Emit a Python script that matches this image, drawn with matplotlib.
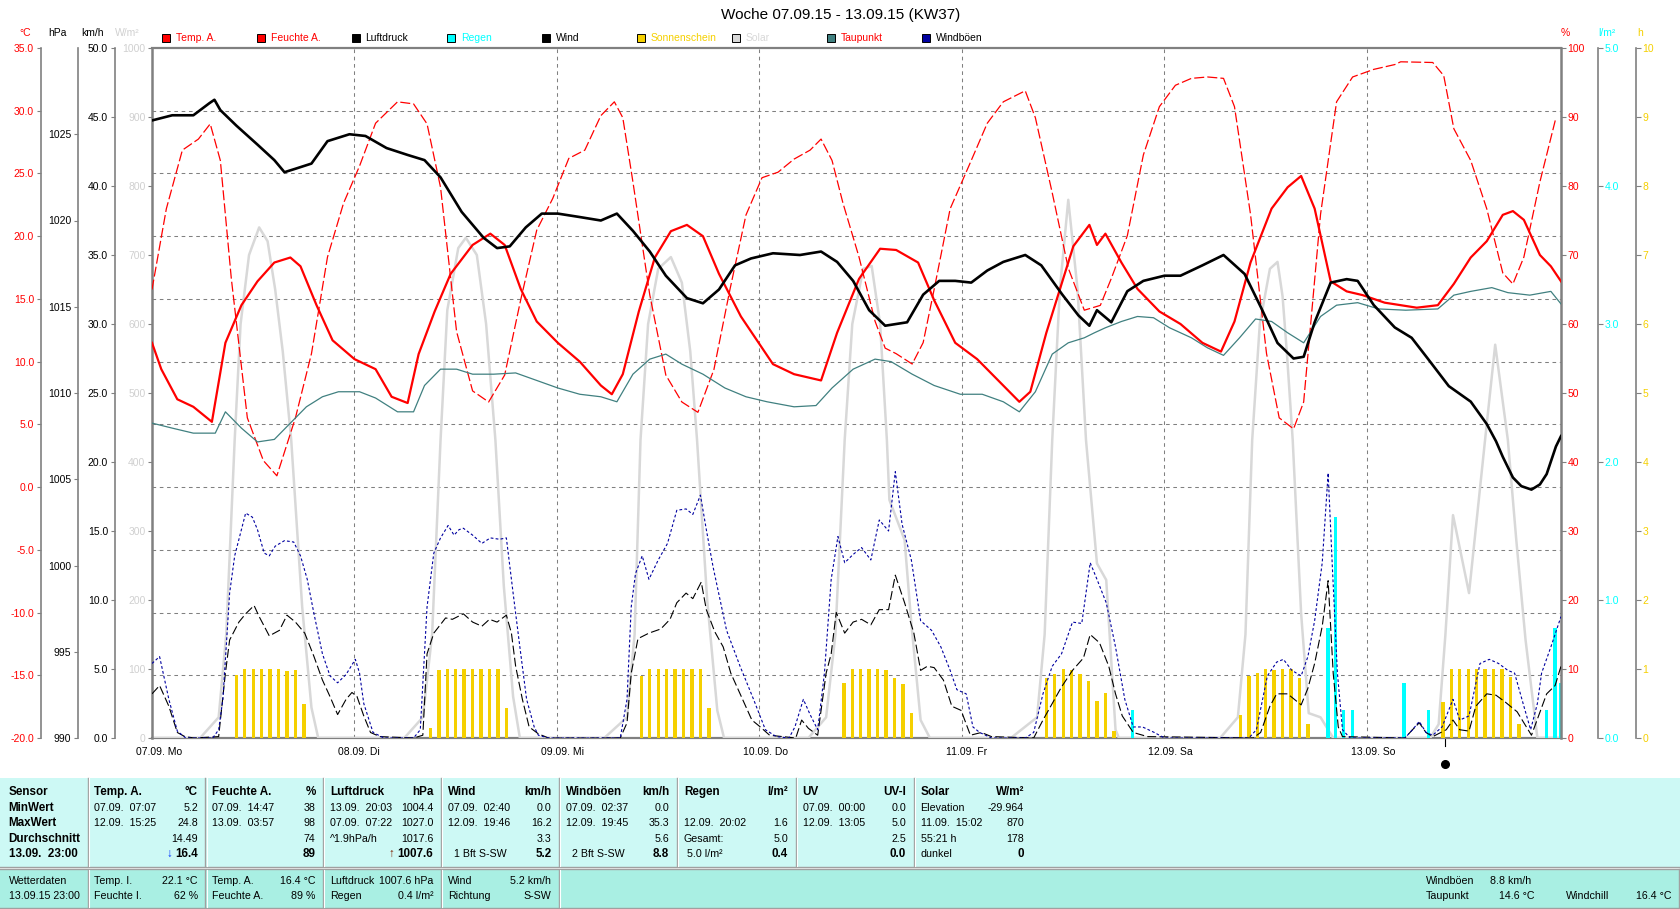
import matplotlib
matplotlib.use("Agg")
import matplotlib.pyplot as plt
import matplotlib.transforms as mtransforms
from matplotlib.patches import Rectangle

plt.rcParams['font.family'] = ['Liberation Sans', 'DejaVu Sans']

# ---------------- data (time in hours since 07.09.15 00:00) ----------------
title = "Woche 07.09.15 - 13.09.15 (KW37)"
day_labels = ["07.09. Mo", "08.09. Di", "09.09. Mi", "10.09. Do", "11.09. Fr", "12.09. Sa", "13.09. So"]
hours_end = 167.0
mark_t = 153.3

temp = [(0, 11.5), (1.1, 9.4), (3.0, 7.0), (4.9, 6.4), (7.1, 5.2), (8.7, 11.5), (10.6, 14.5), (12.5, 16.4),
        (14.5, 17.9), (16.4, 18.3), (17.6, 17.6), (19.5, 14.5), (21.4, 11.7), (24.0, 10.2), (26.5, 9.4),
        (28.4, 7.2), (30.3, 6.7), (31.6, 10.6), (33.5, 14.0), (35.4, 17.0), (38.0, 19.3), (40.1, 20.2),
        (41.8, 19.3), (43.7, 15.8), (45.6, 13.2), (48.1, 11.5), (50.7, 10.0), (53.2, 8.1), (54.5, 7.4),
        (55.8, 9.0), (57.7, 14.0), (59.6, 18.3), (61.5, 20.4), (63.4, 20.9), (65.3, 20.0), (67.2, 17.0),
        (69.8, 13.6), (71.7, 11.7), (73.6, 9.8), (76.1, 9.0), (79.3, 8.5), (81.2, 12.3), (83.8, 16.6),
        (86.3, 19.0), (88.2, 18.9), (90.8, 17.9), (92.7, 14.9), (95.2, 11.5), (97.8, 10.2), (100.3, 8.5),
        (102.8, 6.8), (104.1, 7.6), (106.0, 12.3), (109.2, 19.2), (111.1, 20.9), (112.0, 19.3), (113.0, 20.2),
        (114.9, 17.9), (116.8, 15.8), (119.4, 14.0), (121.9, 13.0), (124.5, 11.5), (126.7, 10.8), (128.3, 13.2),
        (130.2, 17.9), (132.7, 22.2), (134.6, 23.9), (136.2, 24.8), (137.8, 22.2), (139.7, 16.4), (141.6, 15.6),
        (143.5, 15.3), (146.1, 14.7), (149.9, 14.3), (152.4, 14.5), (154.3, 16.2), (156.3, 18.3), (158.2, 19.6),
        (160.1, 21.7), (161.3, 22.0), (162.6, 21.3), (164.5, 18.5), (165.8, 17.6), (167.0, 16.4)]

humidity = [(0, 65), (1.7, 76.7), (3.6, 85.2), (5.5, 86.8), (6.9, 89), (8.1, 83.7), (9.4, 66.6), (11.3, 46.4),
            (13.2, 40.2), (14.8, 38), (17.0, 46.4), (18.9, 55.7), (20.8, 69.7), (22.7, 77.5), (24.6, 82.9),
            (26.5, 89.1), (29.1, 92.2), (31.0, 91.9), (32.6, 89), (34.2, 79.8), (36.1, 58.9), (38.0, 50.3),
            (39.9, 48.7), (41.8, 52.6), (43.7, 63.5), (45.6, 73.6), (47.5, 78.2), (49.4, 84), (51.3, 85.2),
            (53.2, 90.2), (54.8, 92.2), (55.8, 89.9), (57.0, 80.6), (59.0, 64.2), (60.9, 52.6), (62.8, 48.7),
            (64.7, 47.2), (66.6, 53.4), (68.5, 65), (70.4, 75.8), (72.3, 81.2), (74.2, 82), (76.1, 83.9),
            (78.0, 85.2), (79.3, 86.8), (80.6, 83.7), (81.9, 77.5), (83.8, 69.7), (85.7, 60.4), (86.9, 56.5),
            (88.2, 55.7), (90.1, 54.2), (91.4, 57.3), (92.7, 65), (94.6, 76.7), (97.1, 83.7), (99.0, 89.1),
            (100.9, 92.2), (103.5, 93.8), (104.7, 89.9), (106.7, 79), (108.6, 68.1), (110.5, 62), (112.4, 62.7),
            (113.7, 66.6), (115.6, 72.8), (117.5, 84.5), (119.4, 91.5), (121.3, 94.6), (123.2, 95.6),
            (125.1, 95.8), (127.0, 95.6), (128.3, 91.5), (130.2, 75.9), (132.1, 55.7), (133.6, 46.4),
            (135.3, 44.8), (136.5, 48.7), (138.5, 75.9), (140.4, 92.2), (142.3, 95.8), (144.8, 96.9),
            (147.3, 97.6), (148.0, 98.0), (151.8, 97.9), (153.1, 96), (154.3, 88.3), (156.3, 83.7), (158.2, 76.7),
            (160.1, 67.4), (161.3, 65.8), (162.6, 69.7), (164.5, 80.6), (166.4, 89.9)]

pressure = [(0, 1025.8), (2.4, 1026.1), (4.9, 1026.1), (6.8, 1026.8), (7.4, 1027.0), (8.1, 1026.4), (10.0, 1025.5),
            (12.5, 1024.4), (14.5, 1023.5), (15.7, 1022.8), (17.0, 1023.0), (18.9, 1023.3), (20.8, 1024.6),
            (23.4, 1025.0), (25.3, 1024.9), (27.8, 1024.2), (30.3, 1023.8), (32.3, 1023.5), (34.2, 1022.5),
            (36.7, 1020.5), (39.3, 1019.0), (40.9, 1018.4), (42.4, 1018.5), (44.3, 1019.6), (46.2, 1020.4),
            (48.1, 1020.4), (50.7, 1020.2), (53.2, 1020.0), (55.1, 1020.4), (57.0, 1019.4), (59.0, 1018.2),
            (60.9, 1016.8), (63.4, 1015.5), (65.3, 1015.2), (67.2, 1016.0), (69.1, 1017.4), (71.0, 1017.8),
            (73.6, 1018.1), (76.8, 1018.0), (79.3, 1018.2), (81.2, 1017.6), (83.1, 1016.5), (85.0, 1014.8),
            (86.9, 1013.9), (89.5, 1014.1), (91.4, 1015.7), (93.3, 1016.5), (95.2, 1016.5), (97.1, 1016.4),
            (99.0, 1017.1), (100.9, 1017.6), (103.5, 1018.0), (105.4, 1017.4), (107.9, 1015.7), (109.8, 1014.5),
            (111.1, 1013.9), (112.0, 1014.8), (113.7, 1014.1), (115.6, 1015.9), (117.5, 1016.5), (120.0, 1016.8),
            (121.9, 1016.8), (124.5, 1017.4), (127.0, 1018.0), (129.5, 1016.9), (131.5, 1014.9), (133.4, 1012.9),
            (135.3, 1012.0), (136.5, 1012.1), (137.8, 1014.1), (139.7, 1016.4), (141.6, 1016.6), (142.9, 1016.5),
            (144.8, 1015.1), (147.3, 1013.8), (149.3, 1013.2), (151.2, 1012.0), (153.7, 1010.4), (156.3, 1009.5),
            (158.2, 1008.2), (159.3, 1007.2), (160.1, 1006.3), (161.3, 1005.1), (162.3, 1004.6), (163.5, 1004.4),
            (164.5, 1004.7), (165.3, 1005.3), (166.4, 1006.9), (167.0, 1007.5)]

dewpoint = [(0, 5.1), (2.4, 4.7), (4.9, 4.3), (7.5, 4.3), (8.7, 6.0), (10.6, 4.7), (12.5, 3.6), (14.5, 3.8),
            (16.4, 5.1), (18.3, 6.4), (20.2, 7.2), (22.1, 7.6), (24.6, 7.6), (26.5, 7.1), (29.1, 6.0), (31.0, 6.0),
            (32.3, 8.1), (34.2, 9.4), (36.1, 9.4), (38.0, 9.0), (40.5, 9.0), (43.1, 9.1), (45.6, 8.5), (48.1, 7.9),
            (50.7, 7.4), (53.2, 7.2), (55.1, 6.8), (57.0, 9.0), (59.0, 10.2), (60.9, 10.6), (62.8, 9.8),
            (65.3, 9.0), (67.9, 7.9), (70.4, 7.2), (72.9, 6.8), (76.1, 6.4), (78.7, 6.5), (80.6, 7.9), (83.1, 9.4),
            (85.7, 10.2), (87.6, 10.0), (90.1, 9.0), (92.7, 8.1), (95.8, 7.4), (98.4, 7.4), (100.9, 6.8),
            (102.8, 6.0), (104.7, 7.6), (106.7, 10.6), (108.6, 11.5), (110.5, 11.9), (111.7, 12.3), (113.0, 12.7),
            (114.9, 13.2), (116.8, 13.6), (118.7, 13.5), (120.6, 12.7), (123.2, 11.9), (125.1, 11.1),
            (127.0, 10.5), (128.9, 11.9), (130.8, 13.4), (132.7, 13.2), (134.6, 12.3), (136.5, 11.5),
            (138.5, 13.6), (140.4, 14.5), (142.9, 14.7), (145.4, 14.2), (148.6, 14.1), (152.4, 14.2),
            (154.3, 15.3), (156.3, 15.6), (158.8, 15.9), (160.7, 15.5), (163.3, 15.3), (165.8, 15.6), (167.0, 14.6)]

solar = [(0, 0), (5.7, 0), (7.9, 30), (8.8, 150), (9.8, 432), (10.5, 600), (11.5, 700), (12.7, 740), (13.7, 720),
         (14.6, 650), (15.5, 560), (16.5, 432), (17.8, 190), (18.9, 44), (19.7, 0),
         (29.9, 0), (32.1, 30), (33.2, 150), (34.2, 432), (35.0, 620), (36.3, 710), (37.2, 725), (38.5, 700),
         (39.6, 600), (40.7, 432), (41.7, 220), (42.8, 60), (43.6, 0),
         (53.6, 0), (56.3, 30), (57.2, 150), (57.9, 432), (58.8, 600), (60.0, 680), (61.5, 697), (62.8, 660),
         (63.8, 560), (64.6, 432), (65.8, 200), (67.0, 40), (67.8, 0),
         (77.8, 0), (79.9, 30), (81.0, 150), (82.1, 432), (83.0, 600), (84.3, 680), (85.3, 684), (86.3, 600),
         (87.1, 432), (87.4, 345), (89.2, 287), (90.0, 166), (91.1, 26), (92.2, 0),
         (101.8, 0), (104.9, 30), (105.8, 150), (106.7, 432), (107.6, 650), (108.6, 780), (109.7, 650),
         (110.7, 432), (112.0, 253), (113.1, 229), (114.2, 12), (114.6, 0),
         (126.6, 0), (128.7, 30), (129.6, 150), (130.4, 432), (131.3, 600), (132.5, 680), (133.4, 690),
         (134.0, 640), (134.5, 560), (135.2, 432), (136.2, 180), (137.1, 36), (138.5, 30), (140.0, 0),
         (151.5, 0), (152.5, 20), (153.3, 150), (154.2, 323), (156.1, 210), (158.0, 432), (159.2, 570),
         (160.7, 432), (161.7, 287), (162.8, 142), (164.2, 0), (167.0, 0)]

wind = [(0, 3.2), (0.9, 3.8), (2.0, 2.3), (3.0, 0.4), (3.9, 0.1), (5, 0), (7.9, 0.1), (8.7, 4.7), (9.2, 7.1),
        (10.3, 8.4), (11.1, 9.0), (12.1, 9.6), (12.7, 8.8), (13.9, 7.4), (15.1, 7.8), (16.0, 8.9), (17.0, 8.4),
        (18.1, 7.6), (19.2, 5.9), (20.2, 4.2), (21.1, 3.0), (22.0, 1.7), (23.0, 2.8), (23.7, 3.3), (24.3, 3.0),
        (25.1, 1.6), (25.9, 0.4), (27, 0.1), (31, 0), (32.1, 0.2), (32.6, 6.1), (33.4, 7.6), (34.8, 8.7),
        (35.6, 8.6), (36.9, 9.0), (38.0, 8.4), (39.1, 8.1), (40.0, 8.6), (40.9, 8.4), (42.0, 8.9), (42.6, 7.6),
        (43.1, 5.2), (43.9, 2.8), (44.7, 0.8), (45.8, 0.3), (47, 0), (55.5, 0), (56.3, 1.1), (56.8, 4.7),
        (57.6, 7.2), (58.9, 7.6), (60.3, 7.9), (61.4, 8.6), (62.2, 9.8), (63.3, 10.5), (64.1, 10.1),
        (65.1, 11.3), (65.7, 9.3), (66.7, 7.7), (67.7, 6.6), (68.6, 4.7), (69.7, 3.2), (71.1, 1.3), (72.1, 0.8),
        (73.2, 0.2), (76.3, 0), (77.0, 1.3), (77.8, 0.7), (78.9, 0.2), (79.9, 4.7), (80.5, 6.1), (81.1, 9.1),
        (82.1, 7.6), (83.1, 8.4), (84.1, 8.6), (85.2, 8.2), (86.2, 9.3), (87.3, 9.3), (88.1, 11.8), (89.2, 9.8),
        (90.3, 7.6), (91.1, 4.9), (91.9, 5.2), (92.7, 5.1), (93.8, 4.2), (94.8, 2.3), (95.9, 2.0), (97.0, 0.2),
        (98.3, 0.4), (99.5, 0.1), (104.5, 0), (105.6, 1.3), (106.7, 2.5), (107.8, 3.7), (109.1, 4.9),
        (110.4, 5.8), (111.2, 7.5), (112.3, 6.9), (113.4, 5.2), (114.2, 3.2), (115.0, 1.6), (116.3, 0.4),
        (118.0, 0.1), (130.5, 0), (131.4, 0.4), (132.5, 2.3), (133.3, 3.2), (134.6, 3.2), (136.2, 2.4),
        (137.0, 3.6), (137.8, 5.4), (138.7, 8.1), (139.4, 11.4), (140.0, 4.7), (140.6, 0.8), (141.1, 0.1),
        (148.5, 0), (149.4, 0.6), (150.2, 1.1), (151.0, 0.4), (151.8, 0.1), (153.4, 0.6), (154.2, 1.3),
        (155.0, 0.6), (156.1, 0.5), (156.9, 2.3), (158.2, 3.2), (159.3, 3.1), (160.4, 2.6), (161.8, 1.9),
        (162.8, 0.9), (163.5, 0.2), (164.4, 1.7), (165.3, 3.2), (166.3, 3.8), (167.0, 5.2)]

gusts = [(0, 5.4), (0.9, 5.9), (2.0, 2.8), (3.0, 0.5), (4, 0), (7.2, 0), (7.9, 0.6), (8.4, 2.8), (9.2, 10.5),
         (9.8, 13.2), (10.3, 14.4), (11.1, 16.3), (11.9, 16.0), (12.5, 15.1), (13.3, 13.4), (13.9, 13.2),
         (14.6, 13.9), (15.7, 14.3), (16.8, 14.2), (17.6, 13.2), (18.4, 11.5), (19.2, 9.0), (20.2, 6.1),
         (21.1, 4.5), (22.0, 4.0), (23.0, 4.6), (24.1, 5.7), (24.6, 4.7), (25.1, 2.5), (26.2, 0.4), (27.5, 0),
         (31, 0), (31.8, 0.6), (32.6, 9.5), (33.4, 13.4), (34.2, 14.5), (35.1, 15.4), (35.8, 14.7), (36.4, 15.1),
         (36.9, 15.2), (38.0, 14.7), (39.1, 14.1), (40.1, 14.5), (41.2, 14.4), (42.0, 14.5), (42.8, 10.5),
         (43.6, 6.6), (44.4, 2.8), (45.3, 0.8), (45.8, 0.2), (47, 0), (55.5, 0), (56.3, 2.8), (56.8, 9.5),
         (57.3, 11.9), (58.1, 13.2), (58.9, 11.5), (60.0, 12.9), (61.1, 14.1), (62.2, 16.5), (63.3, 16.6),
         (64.1, 16.2), (65.0, 17.6), (65.7, 15.1), (66.5, 12.4), (68.1, 7.8), (69.7, 5.2), (71.3, 2.8),
         (72.7, 0.6), (74.0, 0.1), (75.5, 0), (76.2, 0.8), (77.2, 2.8), (78.0, 1.7), (78.9, 0.6), (79.7, 4.7),
         (80.5, 11.5), (81.3, 14.6), (82.1, 12.7), (83.1, 13.3), (84.1, 13.8), (85.2, 12.9), (86.2, 15.8),
         (87.3, 15.0), (88.1, 19.3), (88.9, 15.5), (90.0, 12.9), (91.1, 8.5), (92.4, 7.8), (93.5, 6.6),
         (94.6, 4.9), (95.4, 3.5), (96.5, 3.2), (97.3, 0.8), (98.1, 0.4), (99.5, 0), (103.5, 0), (104.5, 0.4),
         (105.6, 3.2), (106.7, 5.2), (107.8, 6.1), (109.1, 8.4), (110.2, 8.3), (111.2, 12.7), (112.0, 11.5),
         (113.1, 9.8), (114.2, 6.6), (115.3, 2.8), (116.3, 0.8), (117.4, 0.8), (118.8, 0.4), (120, 0), (130, 0),
         (130.9, 0.6), (132.2, 4.5), (133.3, 5.5), (134.1, 5.7), (135.1, 4.9), (136.2, 4.5), (137.0, 5.9),
         (137.8, 8.5), (138.7, 12.7), (139.4, 19.2), (139.9, 12.4), (140.5, 4.7), (141.1, 0.6), (142, 0),
         (148.5, 0), (149.4, 0.6), (150.2, 1.2), (151.0, 0.4), (151.8, 0.2), (152.9, 0.8), (154.2, 2.8),
         (155.0, 1.3), (156.1, 1.6), (157.4, 5.4), (158.5, 5.7), (159.6, 5.4), (160.7, 4.9), (161.5, 4.7),
         (162.6, 2.3), (163.4, 0.6), (164.2, 2.5), (164.7, 4.7), (165.8, 6.6), (167.0, 8.8)]

sun_hours = [10, 11, 12, 13, 14, 15, 16, 17, 18,
             33, 34, 35, 36, 37, 38, 39, 40, 41, 42,
             58, 59, 60, 61, 62, 63, 64, 65, 66,
             82, 83, 84, 85, 86, 87, 88, 89, 90,
             106, 107, 108, 109, 110, 111, 112, 113, 114,
             129, 130, 131, 132, 133, 134, 135, 136, 137,
             153, 154, 155, 156, 157, 158, 159, 160, 161, 162]
sun_values = [0.92, 1, 1, 1, 1, 1, 0.97, 0.98, 0.49,
              0.14, 0.99, 1, 1, 1, 1, 1, 1, 1, 0.43,
              0.9, 1, 1, 1, 1, 1, 1, 1, 0.43,
              0.8, 1, 1, 1, 1, 0.99, 0.87, 0.78, 0.36,
              0.87, 0.93, 1.0, 0.99, 0.93, 0.83, 0.53, 0.65, 0.1,
              0.33, 0.9, 0.94, 1, 0.99, 1, 1, 0.87, 0.2,
              0.52, 1, 1, 1, 1, 1, 1, 1, 0.89, 0.2]

rain_hours = [116.2, 139.4, 140.3, 141.2, 142.3, 148.4, 151.3, 165.3, 166.3, 167.0]
rain_values = [0.2, 0.8, 1.6, 0.2, 0.2, 0.4, 0.2, 0.2, 0.8, 0.4]

legend_labels = ["Temp. A.", "Feuchte A.", "Luftdruck", "Regen", "Wind", "Sonnenschein", "Solar", "Taupunkt", "Windböen"]

col_heads = [("Sensor", ""), ("Temp. A.", "°C"), ("Feuchte A.", "%"), ("Luftdruck", "hPa"), ("Wind", "km/h"),
             ("Windböen", "km/h"), ("Regen", "l/m²"), ("UV", "UV-I"), ("Solar", "W/m²")]
col_rows = [
    [("MinWert", ""), ("MaxWert", ""), ("Durchschnitt", ""), ("13.09.  23:00", "")],
    [("07.09.  07:07", "5.2"), ("12.09.  15:25", "24.8"), ("", "14.49"), ("", "16.4")],
    [("07.09.  14:47", "38"), ("13.09.  03:57", "98"), ("", "74"), ("", "89")],
    [("13.09.  20:03", "1004.4"), ("07.09.  07:22", "1027.0"), ("^1.9hPa/h", "1017.6"), ("", "1007.6")],
    [("07.09.  02:40", "0.0"), ("12.09.  19:46", "16.2"), ("", "3.3"), ("  1 Bft S-SW", "5.2")],
    [("07.09.  02:37", "0.0"), ("12.09.  19:45", "35.3"), ("", "5.6"), ("  2 Bft S-SW", "8.8")],
    [("", ""), ("12.09.  20:02", "1.6"), ("Gesamt:", "5.0"), (" 5.0 l/m²", "0.4")],
    [("07.09.  00:00", "0.0"), ("12.09.  13:05", "5.0"), ("", "2.5"), ("", "0.0")],
    [("Elevation", "-29.964"), ("11.09.  15:02", "870"), ("55:21 h", "178"), ("dunkel", "0")],
]
low_cols = [("Wetterdaten", "", "13.09.15 23:00", ""), ("Temp. I.", "22.1 °C", "Feuchte I.", "62 %"),
            ("Temp. A.", "16.4 °C", "Feuchte A.", "89 %"), ("Luftdruck", "1007.6 hPa", "Regen", "0.4 l/m²"),
            ("Wind", "5.2 km/h", "Richtung", "S-SW")]
low_extra = [("Windböen", "8.8 km/h", "", ""), ("Taupunkt", "14.6 °C", "Windchill", "16.4 °C")]

# ---------------- styling ----------------
RED, CYAN, GOLD = '#FF0000', '#00FFFF', '#F5D000'
LGRAY, TEAL, DBLUE, GRID = '#D8D8D8', '#408080', '#0000A0', '#808080'
legend_colors = [(RED, RED), (RED, RED), ('black', 'black'), (CYAN, CYAN), ('black', 'black'),
                 (GOLD, GOLD), (LGRAY, LGRAY), (TEAL, RED), (DBLUE, 'black')]

W, H = 1680, 909
fig = plt.figure(figsize=(W / 100, H / 100), dpi=100)
fig.patch.set_facecolor('white')
X0, X1, Y0, Y1 = 152, 1561, 48, 738
PX = 0.72  # points per pixel

ax = fig.add_axes([X0 / W, 1 - Y1 / H, (X1 - X0) / W, (Y1 - Y0) / H])
ax.set_xlim(0, hours_end)
ax.set_ylim(-20, 35)
ax.tick_params(axis='x', bottom=False, labelbottom=False)
for v in range(-15, 35, 5):
    ax.axhline(v, color=GRID, lw=0.75, ls=(0, (3.5, 3.5)), zorder=0)
for d in range(1, 7):
    ax.axvline(24 * d, color=GRID, lw=0.75, ls=(0, (3.5, 3.5)), zorder=0)


def twin(ylim):
    a = ax.twinx()
    a.set_ylim(*ylim)
    for s in a.spines.values():
        s.set_visible(False)
    a.tick_params(axis='y', left=False, right=False, labelleft=False, labelright=False)
    return a


def scale(a, side, offset_px, ticks, labels, color, lw=1.2):
    sp = a.spines[side]
    sp.set_visible(True)
    sp.set_position(('outward', offset_px * PX))
    sp.set_color(GRID)
    sp.set_linewidth(lw)
    a.set_yticks(ticks)
    a.set_yticklabels(labels)
    kw = {side: True, 'label' + side: True}
    a.tick_params(axis='y', direction='out', length=4.5 * PX * 1.0, width=0.8, color=GRID, pad=1.5,
                  labelsize=7.5, labelcolor=color, **kw)
    a.set_ylim(ticks[0], a.get_ylim()[1])


# base axis: temperature scale (outer left)
for s in ['right']:
    ax.spines[s].set_visible(False)
for s in ['top', 'bottom']:
    ax.spines[s].set_color(GRID)
    ax.spines[s].set_linewidth(1.6)
ax.spines['left'].set_position(('outward', (X0 - 40.7) * PX))
ax.spines['left'].set_color(GRID)
ax.spines['left'].set_linewidth(1.2)
t_ticks = list(range(-20, 36, 5))
ax.set_yticks(t_ticks)
ax.set_yticklabels([f"{v:.1f}" for v in t_ticks])
ax.tick_params(axis='y', direction='out', length=4.5 * PX, width=0.8, color=GRID, pad=1.5,
               labelsize=7.5, labelcolor=RED)
ax.set_ylim(-20, 35)

# solar
ax_s = twin((0, 1000))
ax_s.plot(*zip(*solar), color=LGRAY, lw=1.8, solid_joinstyle='round')
scale(ax_s, 'left', 0, list(range(0, 1001, 100)), [str(v) for v in range(0, 1001, 100)], '#D0D0D0', lw=1.8)
ax_s.set_ylim(0, 1000)

# sunshine
ax_sun = twin((0, 10))
ax_sun.bar(sun_hours, sun_values, width=0.4, color=GOLD, linewidth=0)
scale(ax_sun, 'right', X1 and 1635.7 - X1, list(range(0, 11)), [str(v) for v in range(0, 11)], GOLD)
ax_sun.set_ylim(0, 10)

# rain
ax_r = twin((0, 5))
ax_r.bar(rain_hours, rain_values, width=0.4, color=CYAN, linewidth=0)
scale(ax_r, 'right', 1598 - X1, [0, 1, 2, 3, 4, 5], [f"{v:.1f}" for v in range(6)], CYAN)
ax_r.set_ylim(0, 5)

# humidity
ax_h = twin((0, 100))
ax_h.plot(*zip(*humidity), color=RED, lw=0.9, ls=(0, (8, 2.5)))
scale(ax_h, 'right', 0, list(range(0, 101, 10)), [str(v) for v in range(0, 101, 10)], RED, lw=1.8)
ax_h.set_ylim(0, 100)

# temperature & dew point
ax_t = twin((-20, 35))
ax_t.plot(*zip(*dewpoint), color=TEAL, lw=0.9)
ax_t.plot(*zip(*temp), color=RED, lw=1.6)

# pressure
ax_p = twin((990, 1030))
ax_p.plot(*zip(*pressure), color='black', lw=1.9)
scale(ax_p, 'left', X0 - 77.7, list(range(990, 1026, 5)), [str(v) for v in range(990, 1026, 5)], 'black')
ax_p.set_ylim(990, 1030)

# wind & gusts
ax_w = twin((0, 50))
ax_w.plot(*zip(*wind), color='black', lw=0.8, ls=(0, (8, 3)))
ax_w.plot(*zip(*gusts), color=DBLUE, lw=0.8, ls=(0, (2.5, 2)))
scale(ax_w, 'left', X0 - 114.7, [v * 5 for v in range(11)], [f"{v * 5:.1f}" for v in range(11)], 'black')
ax_w.set_ylim(0, 50)

# x labels (date part centred on the day line)
xtr = mtransforms.offset_copy(ax.get_xaxis_transform(), fig=fig, x=-16, y=0, units='dots')
for i, lab in enumerate(day_labels):
    ax.text(24 * i, (Y1 - 752) / (Y1 - Y0), lab, transform=xtr, ha='left', va='center', fontsize=7.5,
            color='black', clip_on=False)
ax.plot([mark_t], [(Y1 - 764) / (Y1 - Y0)], marker='o', ms=5.5, color='black',
        transform=ax.get_xaxis_transform(), clip_on=False)
ax.plot([mark_t, mark_t], [0, -8 / (Y1 - Y0)], color='black', lw=0.8,
        transform=ax.get_xaxis_transform(), clip_on=False)

# ---------------- overlay: title, legend, units, table ----------------
ov = fig.add_axes([0, 0, 1, 1], zorder=-1)
ov.set_xlim(0, W)
ov.set_ylim(H, 0)
ov.axis('off')

ov.text(841, 15, title, ha='center', va='center', fontsize=11, color='black')

for i, (lab, (sq, tc)) in enumerate(zip(legend_labels, legend_colors)):
    lx = 161.5 + i * 95.05
    ov.add_patch(Rectangle((lx, 33.5), 8, 8, facecolor=sq, edgecolor='black', lw=0.7))
    ov.text(lx + 14, 38, lab, ha='left', va='center', fontsize=7.5, color=tc)

for x, s, c in [(25, "°C", RED), (57.5, "hPa", 'black'), (92, "km/h", 'black'), (127, "W/m²", '#D0D0D0'),
                (1565, "%", RED), (1607, "l/m²", CYAN), (1640, "h", GOLD)]:
    ov.text(x, 32.5, s, ha='center', va='center', fontsize=7.5, color=c)

# table backgrounds
UP_C, LO_C, SEP_C = '#CDF9F5', '#A9EFE3', '#A0A0A0'
ov.add_patch(Rectangle((0, 777.5), W, 89, facecolor=UP_C, edgecolor='none'))
ov.add_patch(Rectangle((0, 869), W, 38.5, facecolor=LO_C, edgecolor='none'))
ov.plot([0, W], [866.8, 866.8], color=SEP_C, lw=1)
ov.plot([0, W], [869.0, 869.0], color=SEP_C, lw=1)
ov.plot([0, W], [907.6, 907.6], color=SEP_C, lw=1)
ov.plot([W - 1.5, W - 1.5], [869, 907.6], color=SEP_C, lw=1)
seps = [87.5, 205.4, 323.2, 441.0, 559.0, 676.8, 795.7, 913.6, 1031.5]
for i, sx in enumerate(seps[:-1]):
    ov.plot([sx, sx], [778, 866], color=SEP_C, lw=1)
    ov.plot([sx + 1.2, sx + 1.2], [778, 866], color='white', lw=0.8)
    if i < 5:
        ov.plot([sx, sx], [869.5, 907], color=SEP_C, lw=1)
        ov.plot([sx + 1.2, sx + 1.2], [869.5, 907], color='white', lw=0.8)

row_y = [792.3, 807.7, 823.3, 839.0, 854.3]
edges = [0] + seps
FS, FSB = 7.7, 8.4
for c, ((hl, hr), rows) in enumerate(zip(col_heads, col_rows)):
    lx = 8.6 if c == 0 else edges[c] + 7
    rx = edges[c + 1] - 7.5
    ov.text(lx, row_y[0], hl, ha='left', va='center', fontsize=FSB, fontweight='bold')
    if hr:
        ov.text(rx, row_y[0], hr, ha='right', va='center', fontsize=FSB, fontweight='bold')
    for r, (l, rv) in enumerate(rows):
        bold_left = (c == 0)
        ov.text(lx, row_y[r + 1], l, ha='left', va='center', fontsize=FSB if bold_left else FS,
                fontweight='bold' if bold_left else 'normal')
        if rv:
            last = (r == 3)
            ov.text(rx, row_y[r + 1], rv, ha='right', va='center', fontsize=FSB if last else FS,
                    fontweight='bold' if last else 'normal')
ov.text(edges[2] - 33.5, row_y[4], "↓", ha='right', va='center', fontsize=FSB, color='#0030FF', fontweight='bold')
ov.text(edges[4] - 47, row_y[4], "↑", ha='right', va='center', fontsize=FSB, color='#802000', fontweight='bold')

low_y = [880.7, 895.7]
for c, (a1, b1, a2, b2) in enumerate(low_cols):
    lx = 8.6 if c == 0 else edges[c] + 7
    rx = edges[c + 1] - 7.5
    ov.text(lx, low_y[0], a1, ha='left', va='center', fontsize=FS)
    ov.text(lx, low_y[1], a2, ha='left', va='center', fontsize=FS)
    if b1:
        ov.text(rx, low_y[0], b1, ha='right', va='center', fontsize=FS)
    if b2:
        ov.text(rx, low_y[1], b2, ha='right', va='center', fontsize=FS)
for r, (a1, b1, a2, b2) in enumerate(low_extra):
    ov.text(1426, low_y[r], a1, ha='left', va='center', fontsize=FS)
    ov.text(1490 + 9 * r, low_y[r], b1, ha='left', va='center', fontsize=FS)
    if a2:
        ov.text(1566.4, low_y[r], a2, ha='left', va='center', fontsize=FS)
        ov.text(1672, low_y[r], b2, ha='right', va='center', fontsize=FS)

fig.savefig('out.png', dpi=100)
